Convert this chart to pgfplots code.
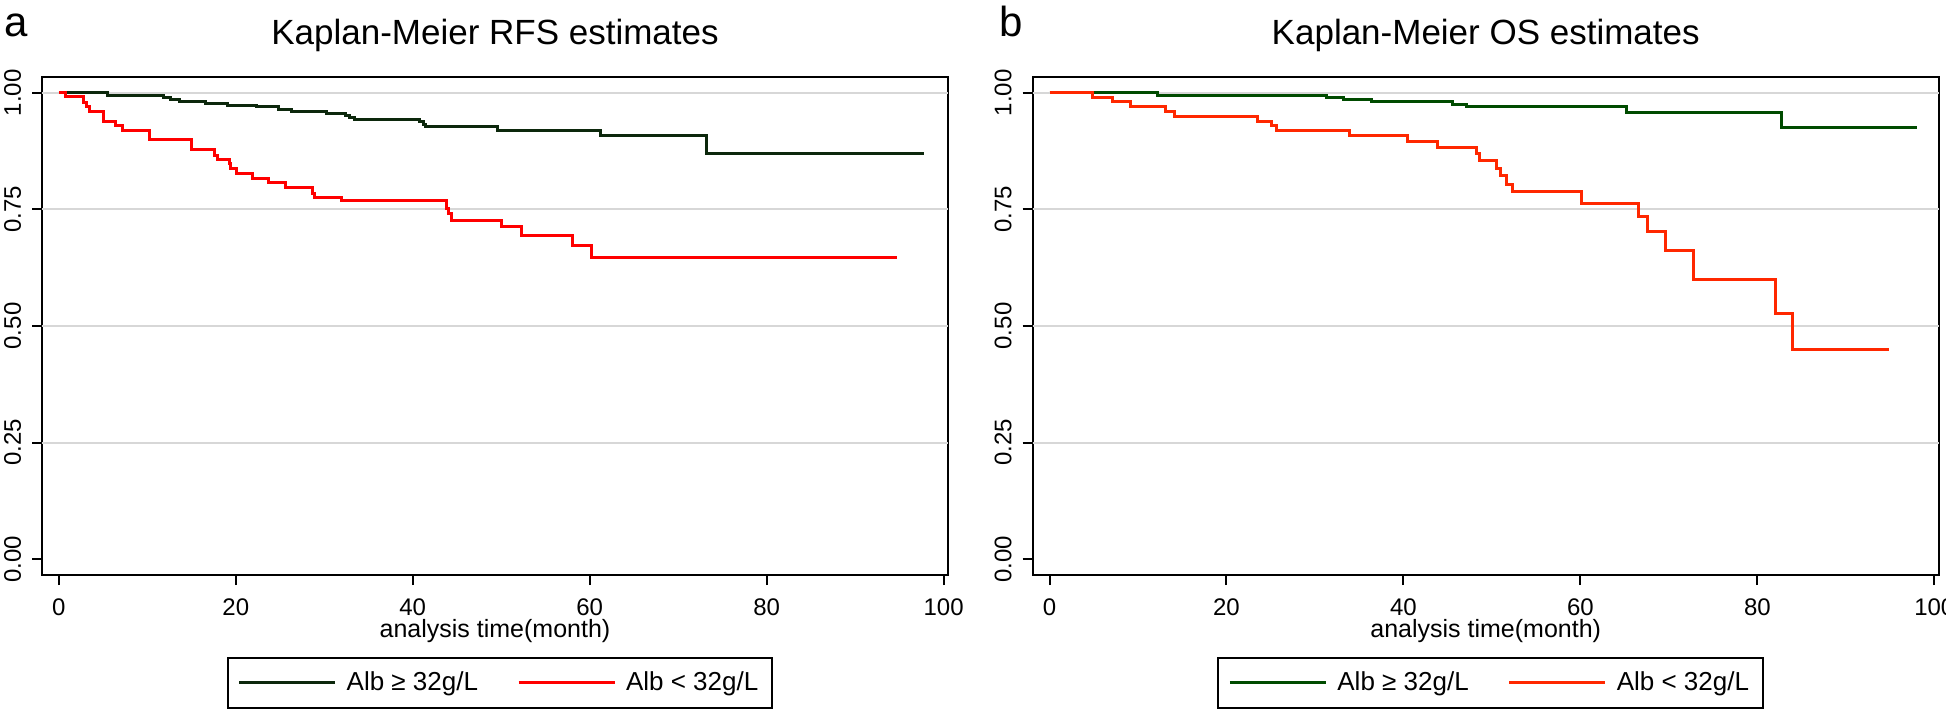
\documentclass[border=0pt]{standalone}
\usepackage{fontspec}
\setmainfont{Liberation Sans}
\usepackage{pgfplots}
\pgfplotsset{compat=1.18}
\definecolor{lgreen}{RGB}{12,40,12}
\definecolor{rgreen}{RGB}{0,75,0}
\definecolor{lred}{RGB}{255,0,0}
\definecolor{rred}{RGB}{255,40,0}
\definecolor{gridgray}{RGB}{215,215,215}
\pgfplotsset{
  kmstyle/.style={
    scale only axis, width=453pt, height=249pt,
    xmin=-1.9, xmax=100.5, ymin=-0.034, ymax=1.034,
    axis line style={line width=1pt},
    every tick/.style={black, line width=1pt},
    tick align=outside, major tick length=5pt,
    xtick pos=bottom, ytick pos=left,
    xtick={0,20,40,60,80,100},
    ytick={0,0.25,0.5,0.75,1},
    /pgf/number format/assume math mode=true,
    yticklabel={\pgfmathprintnumber[fixed,fixed zerofill,precision=2]{\tick}},
    yticklabel style={rotate=90, anchor=south, inner sep=0pt, font=\fontsize{12}{14}\selectfont},
    xticklabel style={anchor=north, inner sep=0pt, font=\fontsize{12}{14}\selectfont},
    yticklabel shift=5.3pt,
    xticklabel shift=6.5pt,
    extra y ticks={0.25,0.5,0.75,1},
    extra y tick labels={},
    extra y tick style={grid=major, major tick length=0pt, major grid style={gridgray, line width=1pt}},
    title style={at={(axis description cs:0.5,1)}, anchor=base, yshift=10pt, inner sep=0pt, font=\fontsize{17.5}{21}\selectfont},
    xlabel={analysis time(month)},
    xlabel style={at={(axis description cs:0.5,0)}, anchor=base, yshift=-31pt, inner sep=0pt, font=\fontsize{12.5}{15}\selectfont},
    legend columns=2,
    legend style={at={(axis description cs:0.5,0)}, anchor=north, xshift=2.5pt, yshift=-41pt,
      draw=black, line width=1pt, inner xsep=5pt, inner ysep=5pt,
      font=\fontsize{13}{15}\selectfont,
      /tikz/every even column/.append style={column sep=17.5pt}},
    legend image code/.code={\draw[#1] (0pt,0pt) -- (48pt,0pt);},
  },
  km/.style={const plot, no marks, line width=1.5pt},
}
\begin{document}
\begin{tikzpicture}[x=1pt,y=1pt]
\useasboundingbox (0,0) rectangle (973,354);
\begin{axis}[kmstyle, at={(21pt,66.5pt)}, anchor=south west, title={Kaplan-Meier RFS estimates}]
\addplot[km, lgreen] coordinates {
(0,1.0) (5.5,0.995) (11.8,0.991) (12.6,0.986) (13.6,0.982) (16.6,0.977)
(19.1,0.973) (22.3,0.970) (24.8,0.964) (26.3,0.959) (30.3,0.956) (32.4,0.951)
(32.9,0.948) (33.4,0.943) (40.8,0.938) (41.2,0.932) (41.5,0.927) (49.6,0.920)
(61.2,0.909) (73.2,0.871) (97.8,0.871)};
\addlegendentry{\hspace{3pt}Alb ≥ 32g/L}
\addplot[km, lred] coordinates {
(0,1.0) (0.8,0.993) (2.8,0.979) (3.1,0.971) (3.5,0.959) (5.0,0.938) (6.4,0.929)
(7.2,0.919) (10.3,0.899) (15.0,0.879) (17.6,0.866) (17.9,0.857) (19.3,0.849)
(19.4,0.838) (20.1,0.827) (21.9,0.816) (23.7,0.807) (25.6,0.796) (28.7,0.784)
(28.9,0.776) (32.0,0.769) (43.8,0.752) (44.1,0.741) (44.4,0.727) (50.0,0.713)
(52.3,0.695) (58.1,0.672) (60.2,0.646) (94.7,0.646)};
\addlegendentry{\hspace{3pt}Alb < 32g/L\hspace{8pt}}
\end{axis}
\begin{axis}[kmstyle, at={(516.35pt,66.5pt)}, anchor=south west, title={Kaplan-Meier OS estimates}]
\addplot[km, rgreen] coordinates {
(0,1.0) (12.2,0.995) (31.3,0.990) (33.2,0.985) (36.4,0.982) (45.6,0.976)
(47.1,0.970) (65.2,0.957) (82.7,0.926) (98.0,0.926)};
\addlegendentry{\hspace{3pt}Alb ≥ 32g/L}
\addplot[km, rred] coordinates {
(0,1.0) (4.9,0.991) (7.1,0.981) (9.1,0.970) (13.1,0.959) (14.1,0.950)
(23.5,0.938) (25.1,0.929) (25.6,0.919) (33.9,0.909) (40.5,0.896) (43.8,0.883)
(48.3,0.869) (48.6,0.856) (50.5,0.838) (51.0,0.822) (51.7,0.804) (52.3,0.789)
(60.1,0.763) (66.6,0.734) (67.6,0.702) (69.6,0.661) (72.8,0.600) (82.1,0.526)
(84.0,0.450) (94.9,0.450)};
\addlegendentry{\hspace{3pt}Alb < 32g/L\hspace{8pt}}
\end{axis}
\node[anchor=base west, inner sep=0pt, font=\fontsize{21}{25}\selectfont] at (2,335.5) {a};
\node[anchor=base west, inner sep=0pt, font=\fontsize{21}{25}\selectfont] at (499.5,335.5) {b};
\end{tikzpicture}
\end{document}
